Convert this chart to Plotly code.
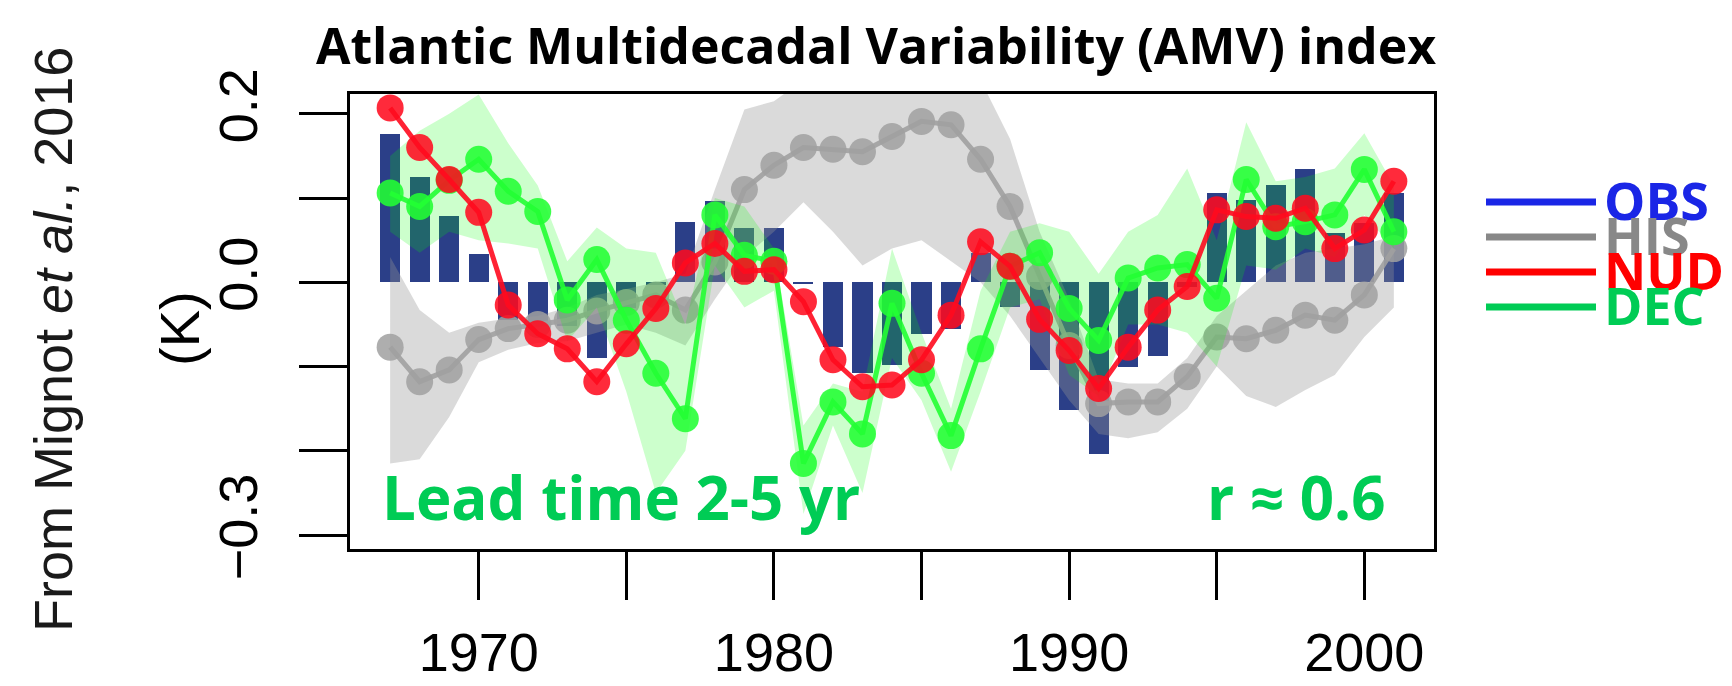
import plotly.graph_objects as go

# ---------------- data ----------------
YEARS = list(range(1967, 2002))

OBS = [0.176, 0.125, 0.079, 0.034, -0.045, -0.050, -0.052, -0.090, -0.030, -0.003,
       0.072, 0.096, 0.064, 0.064, -0.002, -0.077, -0.108, -0.098, -0.061, -0.055,
       0.035, -0.029, -0.104, -0.152, -0.204, -0.100, -0.087, -0.005, 0.106, 0.098,
       0.116, 0.134, 0.058, 0.070, 0.106]

HIS = [-0.077, -0.118, -0.104, -0.068, -0.055, -0.050, -0.045, -0.034, -0.024, -0.015,
       -0.033, 0.024, 0.110, 0.139, 0.160, 0.158, 0.155, 0.173, 0.191, 0.187,
       0.146, 0.090, 0.007, -0.075, -0.144, -0.142, -0.142, -0.112, -0.065, -0.067,
       -0.057, -0.039, -0.045, -0.015, 0.040]
HIS_HI = [0.030, -0.033, -0.060, -0.048, -0.043, -0.040, -0.030, -0.015, -0.008, 0.000,
          0.010, 0.110, 0.205, 0.215, 0.240, 0.240, 0.240, 0.240, 0.240, 0.240,
          0.240, 0.170, 0.060, -0.020, -0.115, -0.120, -0.120, -0.090, -0.040, -0.010,
          0.020, 0.035, 0.040, 0.045, 0.055]
HIS_LO = [-0.215, -0.210, -0.160, -0.095, -0.080, -0.072, -0.070, -0.060, -0.050, -0.060,
          -0.075, -0.020, 0.030, 0.060, 0.095, 0.060, 0.020, 0.040, 0.050, 0.025,
          0.000, -0.040, -0.090, -0.140, -0.180, -0.185, -0.178, -0.150, -0.100, -0.135,
          -0.148, -0.128, -0.110, -0.065, -0.030]

NUD = [0.207, 0.160, 0.122, 0.083, -0.027, -0.061, -0.079, -0.118, -0.073, -0.031,
       0.023, 0.046, 0.013, 0.015, -0.023, -0.092, -0.124, -0.122, -0.092, -0.039,
       0.048, 0.019, -0.044, -0.081, -0.126, -0.077, -0.033, -0.005, 0.086, 0.078,
       0.076, 0.088, 0.040, 0.062, 0.120]

DEC = [0.106, 0.090, 0.121, 0.146, 0.108, 0.084, -0.021, 0.027, -0.045, -0.108,
       -0.162, 0.080, 0.032, 0.025, -0.215, -0.142, -0.180, -0.025, -0.108, -0.182,
       -0.079, 0.019, 0.035, -0.031, -0.069, 0.005, 0.017, 0.021, -0.019, 0.122,
       0.066, 0.072, 0.080, 0.134, 0.060]
DEC_HI = [0.150, 0.180, 0.200, 0.223, 0.165, 0.115, 0.025, 0.065, 0.040, 0.035,
          -0.050, 0.100, 0.090, 0.040, -0.170, -0.120, -0.130, 0.040, -0.060, -0.150,
          -0.010, 0.060, 0.070, 0.060, 0.010, 0.060, 0.080, 0.135, 0.050, 0.190,
          0.120, 0.125, 0.135, 0.177, 0.115]
DEC_LO = [0.060, 0.035, 0.060, 0.050, 0.046, 0.040, -0.070, -0.030, -0.130, -0.250,
          -0.200, 0.020, -0.030, -0.010, -0.275, -0.170, -0.250, -0.090, -0.140, -0.225,
          -0.130, -0.030, -0.020, -0.110, -0.135, -0.050, -0.050, -0.060, -0.100, 0.020,
          0.015, 0.040, 0.030, 0.080, 0.040]

X_TICKS = [1970, 1975, 1980, 1985, 1990, 1995, 2000]
X_TICK_TEXT = ["1970", "", "1980", "", "1990", "", "2000"]
Y_TICKS = [-0.3, -0.2, -0.1, 0.0, 0.1, 0.2]
Y_TICK_TEXT = ["\u22120.3", "", "", "0.0", "", "0.2"]

TITLE = "Atlantic Multidecadal Variability (AMV) index"
LEGEND_NAMES = ["OBS", "HIS", "NUD", "DEC"]
LEGEND_COLORS = ["#1a26e6", "#888888", "#ff0000", "#00cc55"]

# ---------------- layout geometry (pixels) ----------------
W, H = 1732, 686
L, R, T, B = 350, 298, 94, 137
PW, PH = W - L - R, H - T - B


def px(xp):
    return (xp - L) / PW


def py(yp):
    return (H - B - yp) / PH


fig = go.Figure()

# OBS bars
fig.add_trace(go.Bar(x=YEARS, y=OBS, width=0.68, marker=dict(color="#2b3f88", line_width=0),
                     showlegend=False))

# HIS envelope + line
fig.add_trace(go.Scatter(x=YEARS + YEARS[::-1], y=HIS_HI + HIS_LO[::-1], fill="toself",
                         fillcolor="rgba(150,150,150,0.35)", line=dict(width=0),
                         mode="lines", hoverinfo="skip", showlegend=False))
fig.add_trace(go.Scatter(x=YEARS, y=HIS, mode="lines+markers",
                         line=dict(color="rgba(160,160,160,0.9)", width=5),
                         marker=dict(size=27, color="rgba(160,160,160,0.85)"),
                         showlegend=False))

# DEC envelope + line
fig.add_trace(go.Scatter(x=YEARS + YEARS[::-1], y=DEC_HI + DEC_LO[::-1], fill="toself",
                         fillcolor="rgba(0,255,0,0.2)", line=dict(width=0),
                         mode="lines", hoverinfo="skip", showlegend=False))
fig.add_trace(go.Scatter(x=YEARS, y=DEC, mode="lines+markers",
                         line=dict(color="rgba(34,255,51,0.9)", width=5),
                         marker=dict(size=27, color="rgba(34,255,51,0.88)"),
                         showlegend=False))

# NUD line
fig.add_trace(go.Scatter(x=YEARS, y=NUD, mode="lines+markers",
                         line=dict(color="rgba(255,10,30,0.9)", width=5),
                         marker=dict(size=27, color="rgba(255,10,30,0.87)"),
                         showlegend=False))

tick_font = dict(family="Liberation Sans Narrow, Arial Narrow, Liberation Sans, Arial",
                 size=54, color="black")
overlay_family = "Open Sans"

fig.update_layout(
    width=W, height=H,
    margin=dict(l=L, r=R, t=T, b=B, pad=0, autoexpand=False),
    paper_bgcolor="white", plot_bgcolor="white",
    bargap=0,
    title=dict(text="<b>" + TITLE + "</b>", x=px(876), xref="paper", xanchor="center",
               y=1 - 46 / H, yref="container", yanchor="middle",
               font=dict(family=overlay_family, size=50, color="black")),
    xaxis=dict(range=[1965.64, 2002.36], tickvals=X_TICKS, ticktext=X_TICK_TEXT,
               ticks="outside", ticklen=48, tickwidth=3, tickcolor="black",
               showline=True, linewidth=3, linecolor="black", mirror=True,
               showgrid=False, zeroline=False, tickfont=tick_font,
               ticklabelstandoff=6),
    yaxis=dict(range=[-0.3166, 0.2235], tickvals=Y_TICKS, ticktext=Y_TICK_TEXT,
               ticks="outside", ticklen=48, tickwidth=3, tickcolor="black",
               showline=True, linewidth=3, linecolor="black", mirror=True,
               showgrid=False, zeroline=False, tickfont=tick_font, tickangle=-90,
               ticklabelstandoff=20),
)

annotations = [
    dict(text="From Mignot <i>et al.</i>, 2016", x=px(53), y=py(340), textangle=-90,
         font=dict(family="Liberation Sans", size=54, color="#1a1a1a")),
    dict(text="(K)", x=px(179), y=py(329), textangle=-90,
         font=dict(family="Liberation Sans Narrow, Arial Narrow, Liberation Sans", size=56,
                   color="black")),
    dict(text="<b>Lead time 2-5 yr</b>", x=px(380), y=py(497), xanchor="left",
         font=dict(family=overlay_family, size=60, color="#00cc55")),
    dict(text="<b>r \u2248 0.6</b>", x=px(1387), y=py(497), xanchor="right",
         font=dict(family=overlay_family, size=60, color="#00cc55")),
]
shapes = []
leg_y = [199, 234, 269, 304]
for name, col, yy in zip(LEGEND_NAMES, LEGEND_COLORS, leg_y):
    shapes.append(dict(type="line", xref="paper", yref="paper", x0=px(1486), x1=px(1596),
                       y0=py(yy + 3), y1=py(yy + 3), line=dict(color=col, width=7)))
    annotations.append(dict(text="<b>" + name + "</b>", x=px(1602), y=py(yy), xanchor="left",
                            font=dict(family=overlay_family, size=52, color=col)))

for a in annotations:
    a.update(xref="paper", yref="paper", showarrow=False, yanchor=a.get("yanchor", "middle"),
             xanchor=a.get("xanchor", "center"))
fig.update_layout(annotations=annotations, shapes=shapes)

fig.write_html("out.html")
